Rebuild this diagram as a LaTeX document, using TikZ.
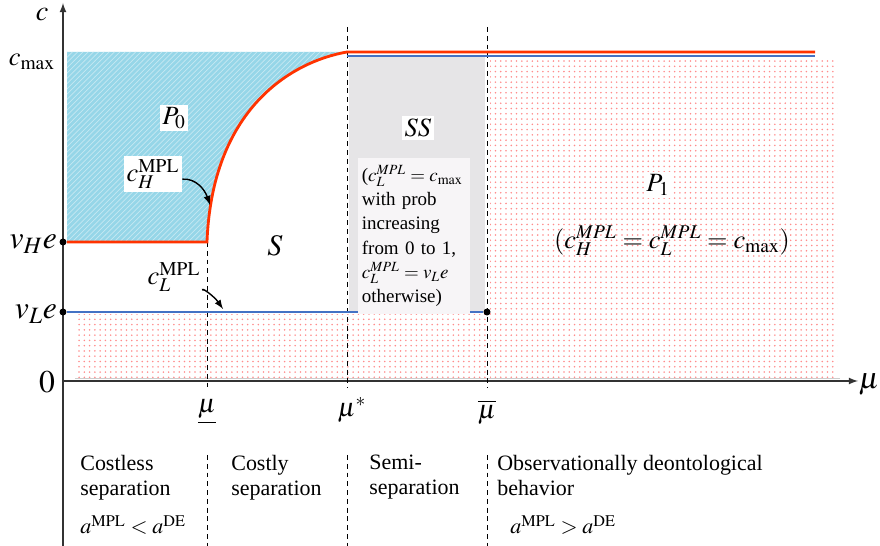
\documentclass[tikz,border=0pt]{standalone}
\usepackage{mathptmx}
\usepackage{fontspec}
\setmainfont{Liberation Serif}
\usepackage{xcolor}
\usetikzlibrary{patterns}
\definecolor{hired}{RGB}{255,51,0}
\definecolor{lowblue}{RGB}{68,114,196}
\definecolor{poolcyan}{RGB}{150,214,232}
\definecolor{semigray}{RGB}{230,229,231}
\definecolor{boxgray}{RGB}{247,245,247}
\newcommand{\regdash}[3]{\draw[thin,dash pattern=on 2.8pt off 2.2pt] (#1,#2) -- (#1,#3);}
\newcommand{\fsz}[1]{\fontsize{#1}{#1}\selectfont}

\begin{document}
\begin{tikzpicture}[x=0.02cm,y=-0.02cm,>=latex,
  lbl/.style={inner sep=1.5pt,font=\fsz{15}},
  wlbl/.style={lbl,fill=white},
  dot/.style={circle,fill=black,inner sep=0pt,minimum size=0.14cm},
  hiline/.style={hired,line width=1.6pt},
  loline/.style={lowblue,line width=1.6pt},
  regtext/.style={anchor=north west,align=left,inner sep=0pt,font=\fontsize{12.5}{14.2}\selectfont}]
\useasboundingbox (0,0) rectangle (880,546);
% ---- REGIONS ----
\fill[poolcyan] (67,52) -- (347,52) .. controls (290,62) and (212,110) .. (207,242) -- (67,242) -- cycle;
\fill[pattern=north east lines,pattern color=poolcyan!55!white] (67,52) -- (347,52) .. controls (290,62) and (212,110) .. (207,242) -- (67,242) -- cycle;
\fill[semigray] (349,56) rectangle (485,312);
\fill[pattern=dots,pattern color=red!45] (75,315) rectangle (487,378);
\fill[pattern=dots,pattern color=red!45] (490,58) rectangle (837,378);
\draw[gray!40] (75,378) -- (840,378);
% ---- AXES ----
\draw[->,thick,black!80] (63,546) -- (63,3);
\draw[->,thick,black!80] (63,381) -- (858,381);
\node[lbl,font=\fsz{16}] (caxis) at (42,15) {$c$};
\node[lbl,font=\fsz{17}] (muaxis) at (869,385) {$\mu$};
\node[lbl,anchor=east] (cmax) at (58,62) {$c_{\mathrm{max}}$};
\node[lbl,anchor=east,font=\fsz{18}] (vHe) at (60,244) {$v_He$};
\node[lbl,anchor=east,font=\fsz{18}] (vLe) at (60,314) {$v_Le$};
\node[lbl,anchor=east,font=\fsz{18}] (zero) at (58,382) {$0$};
\node[dot] (vHdot) at (63,242) {};
\node[dot] (vLdot) at (63,312) {};
\node[dot] (mubdot) at (487,312) {};
% ---- THRESHOLDS ----
\regdash{207}{242}{388}
\regdash{347}{27}{388}
\regdash{487}{27}{388}
\foreach \x in {207,347,487}{ \regdash{\x}{455}{546} }
\node[lbl] (muL) at (207,412) {$\underline{\mu}$};
\node[lbl] (muS) at (352,410) {$\mu^{*}$};
\node[lbl] (muH) at (487,412) {$\overline{\mu}$};
% ---- CUTOFFS ----
\draw[loline] (347,56) -- (815,56);
\draw[hiline] (vHdot) -- (207,242) .. controls (212,110) and (290,62) .. (347,52) -- (815,52);
\draw[loline] (vLdot) -- (mubdot);
% ---- LABELS ----
\node[wlbl] (P0) at (174,118) {$P_0$};
\node[wlbl] (cH) at (153,174) {$c_H^{\mathrm{MPL}}$};
\coordinate (cHtip) at (210,205);
\draw[->,thick] (cH.-10) .. controls (196,178) and (205,190) .. (cHtip);
\node[lbl,font=\fsz{17}] (S) at (275,246) {$S$};
\node[lbl,fill=white] (cL) at (174,277) {$c_L^{\mathrm{MPL}}$};
\coordinate (cLtip) at (223,309);
\draw[->,thick] (cL.-25) .. controls (200,286) and (214,296) .. (cLtip);
\node[wlbl] (SS) at (418,128) {$SS$};
\node[fill=boxgray,anchor=north west,inner xsep=2pt,inner ysep=4pt,text width=2.1cm,align=left,
  font=\fontsize{10.8}{13.8}\selectfont] (SSbox) at (358,158)
  {\lineskiplimit=-4pt($c_L^{MPL}=c_{\mathrm{max}}$\\with prob\\increasing\\from 0 to 1,\\$c_L^{MPL}=v_Le$\\otherwise)};
\node[wlbl] (P1) at (658,185) {$P_1$};
\node[lbl] (P1eq) at (672,241) {$(c_H^{MPL}=c_L^{MPL}=c_{\mathrm{max}})$};
% ---- REGIMES ----
\node[regtext] (costless) at (80,455) {Costless\\separation};
\node[regtext] (costly) at (231,455) {Costly\\separation};
\node[regtext] (semi) at (369,455) {Semi-\\separation};
\node[regtext] (obs) at (497,455) {Observationally deontological\\behavior};
\node[regtext,anchor=west] (aless) at (80,525) {$a^{\mathrm{MPL}}<a^{\mathrm{DE}}$};
\node[regtext,anchor=west] (amore) at (510,525) {$a^{\mathrm{MPL}}>a^{\mathrm{DE}}$};
\end{tikzpicture}
\end{document}
